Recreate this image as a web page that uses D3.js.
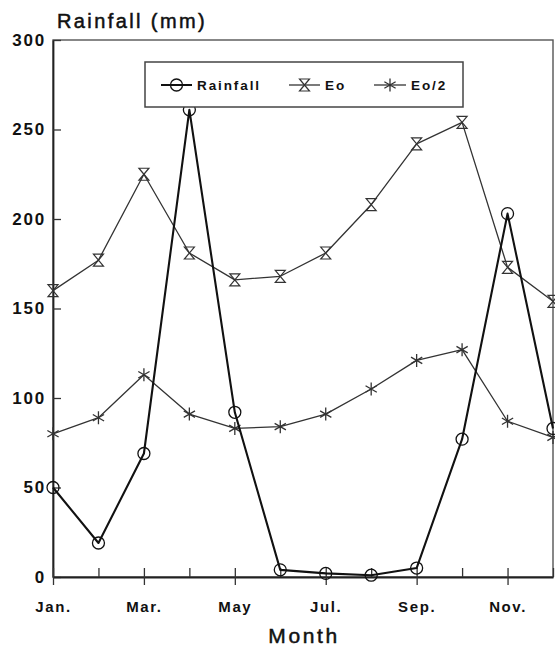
<!DOCTYPE html>
<html>
<head>
<meta charset="utf-8">
<script src="https://cdn.jsdelivr.net/npm/d3@7"></script>
<style>
  html, body { margin: 0; padding: 0; background: #fff; }
  svg { display: block; }
  text { font-family: "Liberation Sans", Arial, sans-serif; fill: #111; }
</style>
</head>
<body>
<svg id="chart" width="555" height="654"></svg>
<script>
// Monthly rainfall and evaporation (mm)
const months = ["Jan","Feb","Mar","Apr","May","Jun","Jul","Aug","Sep","Oct","Nov","Dec"];
const monthLabels = ["Jan.","","Mar.","","May","","Jul.","","Sep.","","Nov.",""];
const rainfall = [50, 19, 69, 261, 92, 4, 2, 1, 5, 77, 203, 83];
const eo = [160, 177, 225, 181, 166, 168, 181, 208, 242, 254, 173, 154];
const eoHalf = [80, 89, 113, 91, 83, 84, 91, 105, 121, 127, 87, 78];
const yTicks = [0, 50, 100, 150, 200, 250, 300];
const legendNames = ["Rainfall", "Eo", "Eo/2"];

const svg = d3.select("#chart");
const plotLeft = 53, plotRight = 553, plotTop = 40, plotBottom = 577;

const x = d3.scalePoint().domain(months).range([plotLeft, plotRight]);
const y = d3.scaleLinear().domain([0, 300]).range([plotBottom, plotTop]);

// plot frame (top and right edges)
svg.append("rect")
  .attr("x", plotLeft).attr("y", plotTop)
  .attr("width", plotRight - plotLeft).attr("height", plotBottom - plotTop)
  .attr("fill", "none").attr("stroke", "#555").attr("stroke-width", 1.4);

// y axis, ticks pointing inward
const yAxis = svg.append("g")
  .attr("transform", `translate(${plotLeft},0)`)
  .call(d3.axisLeft(y).tickValues(yTicks).tickSizeInner(-8).tickSizeOuter(0).tickPadding(7));
yAxis.select(".domain").attr("stroke", "#222").attr("stroke-width", 1.8);
yAxis.selectAll(".tick line").attr("stroke", "#333").attr("stroke-width", 1.3);
yAxis.selectAll(".tick text")
  .style("font-family", "'Liberation Sans', Arial, sans-serif")
  .style("font-size", "17px").style("font-weight", "bold")
  .style("letter-spacing", "1.8px").attr("fill", "#111");

// x axis, ticks pointing up; labelled months also cross below
const xAxis = svg.append("g")
  .attr("transform", `translate(0,${plotBottom})`)
  .call(d3.axisBottom(x).tickSizeInner(-9).tickSizeOuter(0).tickPadding(24)
    .tickFormat((d, i) => monthLabels[i]));
xAxis.select(".domain").attr("stroke", "#222").attr("stroke-width", 1.8);
xAxis.selectAll(".tick line").attr("stroke", "#333").attr("stroke-width", 1.3);
xAxis.selectAll(".tick").filter((d, i) => monthLabels[i] !== "")
  .append("line").attr("y1", 0).attr("y2", 8)
  .attr("stroke", "#333").attr("stroke-width", 1.3);
xAxis.selectAll(".tick text")
  .style("font-family", "'Liberation Sans', Arial, sans-serif")
  .style("font-size", "15px").style("font-weight", "bold")
  .style("letter-spacing", "1.6px").attr("fill", "#111");

// axis titles
svg.append("text")
  .attr("x", 57).attr("y", 28)
  .style("font-size", "20px").style("letter-spacing", "2.4px")
  .attr("stroke", "#111").attr("stroke-width", 0.5)
  .text("Rainfall (mm)");
svg.append("text")
  .attr("x", 304).attr("y", 643).attr("text-anchor", "middle")
  .style("font-size", "21px").style("letter-spacing", "2.6px")
  .attr("stroke", "#111").attr("stroke-width", 0.5)
  .text("Month");

// marker shapes
function drawCircle(g, color) {
  g.append("circle").attr("r", 6).attr("fill", "none")
    .attr("stroke", color).attr("stroke-width", 1.3);
}
function drawHourglass(g, color) {
  const w = 5, h = 6;
  g.append("path")
    .attr("d", `M${-w},${-h}H${w}L${-w},${h}H${w}Z`)
    .attr("fill", "none").attr("stroke", color).attr("stroke-width", 1.2);
}
function drawAsterisk(g, color) {
  const r = 6.5, dx = r * Math.cos(Math.PI / 6), dy = r * Math.sin(Math.PI / 6);
  g.append("path")
    .attr("d", `M0,${-r}V${r}M${-dx},${-dy}L${dx},${dy}M${-dx},${dy}L${dx},${-dy}`)
    .attr("fill", "none").attr("stroke", color).attr("stroke-width", 1.3);
}

const series = [
  { values: eo, color: "#333", width: 1.3, marker: drawHourglass },
  { values: eoHalf, color: "#333", width: 1.3, marker: drawAsterisk },
  { values: rainfall, color: "#111", width: 2.1, marker: drawCircle }
];

const line = d3.line().x((d, i) => x(months[i])).y(d => y(d));

series.forEach(s => {
  svg.append("path").datum(s.values)
    .attr("d", line).attr("fill", "none")
    .attr("stroke", s.color).attr("stroke-width", s.width)
    .attr("stroke-linejoin", "round");
  svg.append("g").selectAll("g").data(s.values).join("g")
    .attr("transform", (d, i) => `translate(${x(months[i])},${y(d)})`)
    .each(function () { s.marker(d3.select(this), s.color); });
});

// legend
const legend = svg.append("g");
legend.append("rect")
  .attr("x", 145).attr("y", 62).attr("width", 318).attr("height", 45)
  .attr("fill", "#fff").attr("stroke", "#444").attr("stroke-width", 1.5);
const legendItems = [
  { name: legendNames[0], x0: 161, x1: 192, tx: 197, color: "#111", width: 2, marker: drawCircle },
  { name: legendNames[1], x0: 289, x1: 320, tx: 325, color: "#333", width: 1.3, marker: drawHourglass },
  { name: legendNames[2], x0: 374, x1: 406, tx: 411, color: "#333", width: 1.3, marker: drawAsterisk }
];
legendItems.forEach(it => {
  const ly = 85;
  legend.append("line").attr("x1", it.x0).attr("x2", it.x1)
    .attr("y1", ly).attr("y2", ly)
    .attr("stroke", it.color).attr("stroke-width", it.width);
  it.marker(legend.append("g").attr("transform", `translate(${(it.x0 + it.x1) / 2},${ly})`), it.color);
  legend.append("text").attr("x", it.tx).attr("y", ly + 5)
    .style("font-size", "13.5px").style("font-weight", "bold")
    .style("letter-spacing", "1.9px")
    .text(it.name);
});
</script>
</body>
</html>
